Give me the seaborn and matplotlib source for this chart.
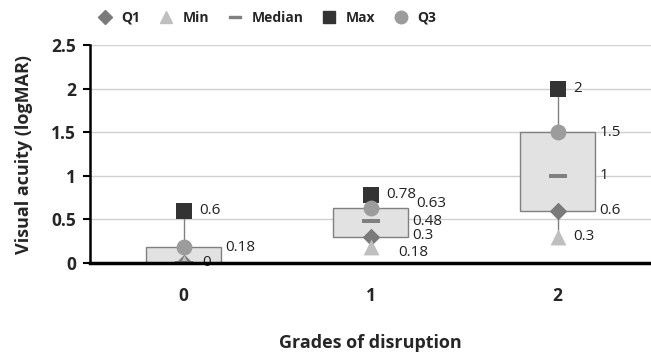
import numpy as np
import pandas as pd
import matplotlib.pyplot as plt
import seaborn as sns
from matplotlib.path import Path
from matplotlib.lines import Line2D

# values
grades = ["0", "1", "2"]
q1 = [0, 0.3, 0.6]
mins = [0, 0.18, 0.3]
median = [0, 0.48, 1]
maxs = [0.6, 0.78, 2]
q3 = [0.18, 0.63, 1.5]

sns.set_style("white")
plt.rcParams['font.family'] = ['Open Sans', 'DejaVu Sans']

pos = np.arange(len(grades))
dash = Path([(-1, -0.2), (1, -0.2), (1, 0.2), (-1, 0.2), (-1, -0.2)],
            [Path.MOVETO, Path.LINETO, Path.LINETO, Path.LINETO, Path.CLOSEPOLY])

# name, values, marker, colour, size, label offset
series = [
    ("Q1", q1, "D", "#7a7a7a", 80, 0.225),
    ("Min", mins, "^", "#bfbfbf", 130, 0.085),
    ("Median", median, dash, "#808080", 150, 0.225),
    ("Max", maxs, "s", "#333333", 120, 0.085),
    ("Q3", q3, "o", "#9c9c9c", 130, 0.225),
]

fig, ax = plt.subplots(figsize=(6.51, 3.54), dpi=100)
fig.subplots_adjust(left=90/651, right=1.0, bottom=91/354, top=309/354)

# box and whiskers
ax.vlines(pos, q3, maxs, color="#808080", lw=1, zorder=1)
ax.vlines(pos, mins, q1, color="#808080", lw=1, zorder=1)
ax.bar(pos, np.array(q3) - np.array(q1), bottom=q1, width=0.40,
       color="#e2e2e2", edgecolor="#808080", lw=1, zorder=2)

handles = []
for name, vals, mk, col, s, off in series:
    sns.scatterplot(x=pos, y=vals, marker=mk, color=col, s=s,
                    linewidth=0, ax=ax, zorder=3, legend=False)
    handles.append(Line2D([], [], marker=mk, color=col, ls="none",
                          markersize=9 if mk != "D" else 7, label=name))

# data labels (group 1 labels are crowded, nudge them apart)
nudge = {
    (0, "Q1"): (0.1, 0), (0, "Min"): (0.1, 0),
    (1, "Min"): (0.15, -0.055), (1, "Q1"): (0.225, 0.02),
    (1, "Median"): (0.225, 0.0), (1, "Q3"): (0.245, 0.05),
}
for i in pos:
    done = set()
    for name, vals, mk, col, s, off in series:
        v = vals[i]
        if v in done:
            continue
        done.add(v)
        off, dy = nudge.get((i, name), (off, 0))
        ax.text(i + off, v + dy, f"{v:g}", va="center", ha="left",
                fontsize=11, color="#222222", zorder=4)

ax.set_xlim(-0.5, 2.5)
ax.set_ylim(0, 2.5)
ax.set_yticks([0, 0.5, 1, 1.5, 2, 2.5])
ax.set_yticklabels(["0", "0.5", "1", "1.5", "2", "2.5"])
ax.set_xticks(pos)
ax.set_xticklabels(grades)
ax.yaxis.grid(True, color="#d0d0d0", lw=1)
ax.set_axisbelow(True)

for side in ["top", "right"]:
    ax.spines[side].set_visible(False)
ax.spines["left"].set_color("black")
ax.spines["left"].set_linewidth(1.8)
ax.spines["bottom"].set_color("black")
ax.spines["bottom"].set_linewidth(2.5)
ax.spines["bottom"].set_zorder(5)

ax.tick_params(axis="y", left=True, direction="out", length=5, width=1.5,
               color="black", pad=5, labelsize=12.5)
ax.tick_params(axis="x", bottom=False, length=0, pad=17, labelsize=12.5)
for lab in ax.get_xticklabels() + ax.get_yticklabels():
    lab.set_fontweight("bold")

ax.set_xlabel("Grades of disruption", fontsize=13, fontweight="bold", labelpad=21)
ax.set_ylabel("Visual acuity (logMAR)", fontsize=13, fontweight="bold", labelpad=13)

fig.legend(handles=handles, loc="center", bbox_to_anchor=(267/651, 1 - 18/354),
           ncol=5, frameon=False, handlelength=1, handletextpad=0.7,
           columnspacing=1.35, prop={"weight": "bold", "size": 10})

fig.savefig("out.png", dpi=100)
